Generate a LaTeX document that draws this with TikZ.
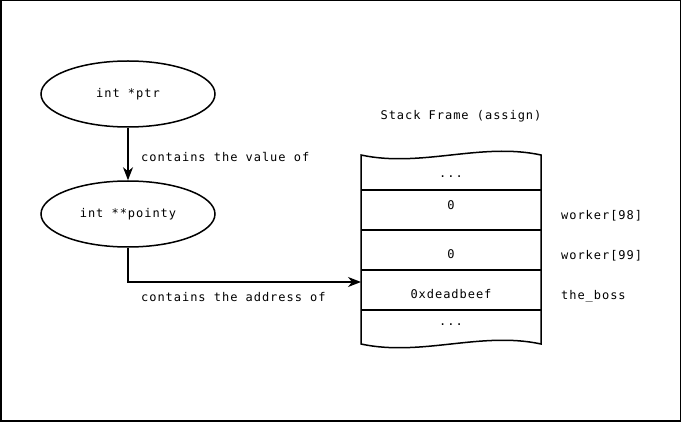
\documentclass[tikz,border=0pt]{standalone}
\usepackage{fontspec}
\newfontfamily\diagmono[LetterSpace=8]{DejaVu Sans Mono}
\usetikzlibrary{arrows.meta,shapes.geometric}
\begin{document}
\begin{tikzpicture}[x=1pt,y=-1pt,
  every node/.style={font=\diagmono\fontsize{12}{14}\selectfont, inner sep=0pt},
  ln/.style={line width=1.5pt, line join=miter},
  oval/.style={ellipse, draw, line width=1.5pt, minimum width=174pt, minimum height=66pt},
  arr/.style={ln, -{Stealth[length=13pt,width=10pt,inset=4pt]}},
  lbl/.style={anchor=west},
  cell/.style={anchor=center}]
\useasboundingbox (0,0) rectangle (681,422);
\draw[line width=1.5pt] (0.75,0.75) rectangle (680.25,421.25);
% ellipses
\node[oval] (ptr) at (128,94) {int *ptr};
\node[oval] (pointy) at (128,214) {int **pointy};
% stack frame
\coordinate (tl) at (361,155);
\coordinate (tr) at (541,155);
\coordinate (bl) at (361,344);
\coordinate (br) at (541,344);
\draw[ln] (tl) .. controls (421,168) and (481,142) .. (tr) -- (br)
   .. controls (481,331) and (421,357) .. (bl) -- cycle;
\draw[ln] (361,190) -- (541,190);
\draw[ln] (361,230) -- (541,230);
\draw[ln] (361,270) -- (541,270);
\draw[ln] (361,310) -- (541,310);
\coordinate (deadbeefin) at (361,282);
\node (title) at (461,116) {Stack Frame (assign)};
\node[cell] (d1) at (451,176.5) {...};
\node[cell] (v98) at (451,205) {0};
\node[cell] (v99) at (451,254) {0};
\node[cell] (vboss) at (451,294) {0xdeadbeef};
\node[cell] (d2) at (451,324.5) {...};
\node[lbl] (n98) at (561,216) {worker[98]};
\node[lbl] (n99) at (561,256) {worker[99]};
\node[lbl] (nboss) at (561,296) {the\_boss};
% connectors
\draw[arr] (ptr.south) -- (pointy.north);
\node[lbl] (lab1) at (141,157) {contains the value of};
\draw[arr] (pointy.south) |- (deadbeefin);
\node[lbl] (lab2) at (141,297) {contains the address of};
\end{tikzpicture}
\end{document}
